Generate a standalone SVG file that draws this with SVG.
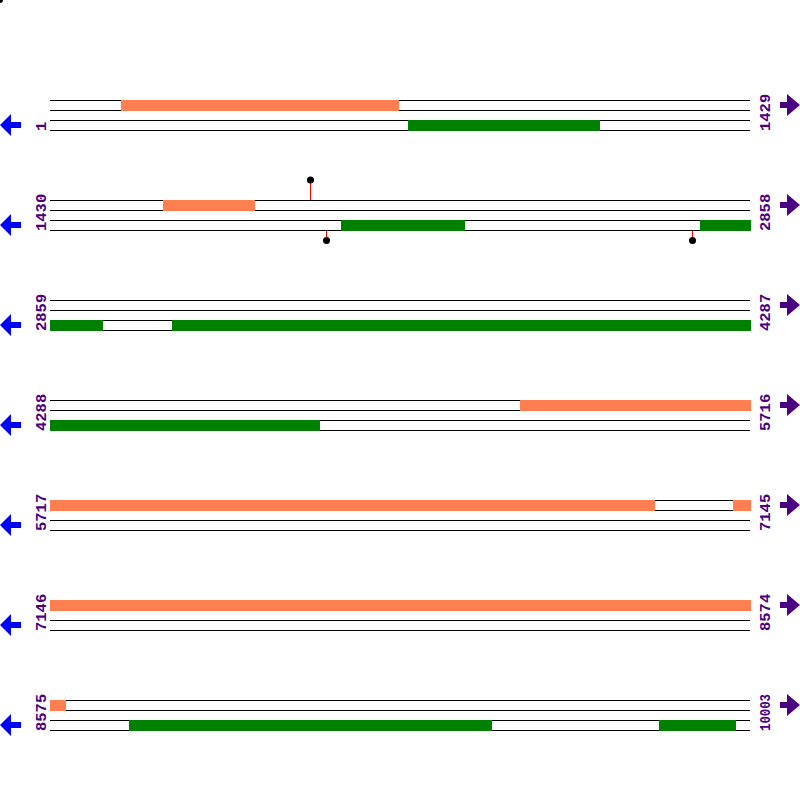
<svg xmlns="http://www.w3.org/2000/svg" width="800" height="800" viewBox="0 0 800 800">
<defs>
<style>
.ln{stroke:#000;stroke-width:1}
.or{fill:#ff7f50}
.gr{fill:#008000}
.lbl{font-family:"Liberation Mono","Courier New",monospace;font-weight:bold;font-size:15.5px;fill:#4b0082}
.la{fill:#0000ff}
.ra{fill:#4b0082}
.stem{stroke:#ff0000;stroke-width:1}
.dot{fill:#000}
</style>
<g id="rowlines">
<line class="ln" x1="50" y1="0.5" x2="750" y2="0.5"/>
<line class="ln" x1="50" y1="10.5" x2="750" y2="10.5"/>
<line class="ln" x1="50" y1="20.5" x2="750" y2="20.5"/>
<line class="ln" x1="50" y1="30.5" x2="750" y2="30.5"/>
</g>
<path id="larrow" d="M0,125 L11,114 L11,122 L21,122 L21,128 L11,128 L11,136 Z"/>
<path id="rarrow" d="M800,105 L787,94 L787,102 L780,102 L780,108 L787,108 L787,116 Z"/>
</defs>
<circle cx="0" cy="0" r="3" class="dot"/>
<g id="row1">
<use href="#rowlines" y="100"/>
<rect class="or" x="121" y="100" width="278" height="11"/>
<rect class="gr" x="408" y="120" width="192" height="11"/>
<text class="lbl" transform="translate(46,131) rotate(-90)">1</text>
<text class="lbl" transform="translate(770,131) rotate(-90)">1429</text>
<use href="#larrow" class="la"/>
<use href="#rarrow" class="ra"/>
</g>
<g id="row2">
<use href="#rowlines" y="200"/>
<rect class="or" x="163" y="200" width="92" height="11"/>
<rect class="gr" x="341" y="220" width="124" height="11"/>
<rect class="gr" x="700" y="220" width="51" height="11"/>
<line class="stem" x1="310.5" y1="180" x2="310.5" y2="200"/>
<circle class="dot" cx="310.5" cy="180" r="3.5"/>
<line class="stem" x1="326.5" y1="231" x2="326.5" y2="240"/>
<circle class="dot" cx="326.5" cy="240.5" r="3.5"/>
<line class="stem" x1="692.5" y1="231" x2="692.5" y2="240"/>
<circle class="dot" cx="692.5" cy="240.5" r="3.5"/>
<text class="lbl" transform="translate(46,231) rotate(-90)">1430</text>
<text class="lbl" transform="translate(770,231) rotate(-90)">2858</text>
<use href="#larrow" class="la" y="100"/>
<use href="#rarrow" class="ra" y="100"/>
</g>
<g id="row3">
<use href="#rowlines" y="300"/>
<rect class="gr" x="50" y="320" width="53" height="11"/>
<rect class="gr" x="172" y="320" width="579" height="11"/>
<text class="lbl" transform="translate(46,331) rotate(-90)">2859</text>
<text class="lbl" transform="translate(770,331) rotate(-90)">4287</text>
<use href="#larrow" class="la" y="200"/>
<use href="#rarrow" class="ra" y="200"/>
</g>
<g id="row4">
<use href="#rowlines" y="400"/>
<rect class="or" x="520" y="400" width="231" height="11"/>
<rect class="gr" x="50" y="420" width="270" height="11"/>
<text class="lbl" transform="translate(46,431) rotate(-90)">4288</text>
<text class="lbl" transform="translate(770,431) rotate(-90)">5716</text>
<use href="#larrow" class="la" y="300"/>
<use href="#rarrow" class="ra" y="300"/>
</g>
<g id="row5">
<use href="#rowlines" y="500"/>
<rect class="or" x="50" y="500" width="605" height="11"/>
<rect class="or" x="733" y="500" width="18" height="11"/>
<text class="lbl" transform="translate(46,531) rotate(-90)">5717</text>
<text class="lbl" transform="translate(770,531) rotate(-90)">7145</text>
<use href="#larrow" class="la" y="400"/>
<use href="#rarrow" class="ra" y="400"/>
</g>
<g id="row6">
<use href="#rowlines" y="600"/>
<rect class="or" x="50" y="600" width="701" height="11"/>
<text class="lbl" transform="translate(46,631) rotate(-90)">7146</text>
<text class="lbl" transform="translate(770,631) rotate(-90)">8574</text>
<use href="#larrow" class="la" y="500"/>
<use href="#rarrow" class="ra" y="500"/>
</g>
<g id="row7">
<use href="#rowlines" y="700"/>
<rect class="or" x="50" y="700" width="16" height="11"/>
<rect class="gr" x="129" y="720" width="363" height="11"/>
<rect class="gr" x="659" y="720" width="77" height="11"/>
<text class="lbl" transform="translate(46,731) rotate(-90)">8575</text>
<text class="lbl" transform="translate(770,731) rotate(-90)" textLength="37" lengthAdjust="spacingAndGlyphs">10003</text>
<use href="#larrow" class="la" y="600"/>
<use href="#rarrow" class="ra" y="600"/>
</g>
</svg>
